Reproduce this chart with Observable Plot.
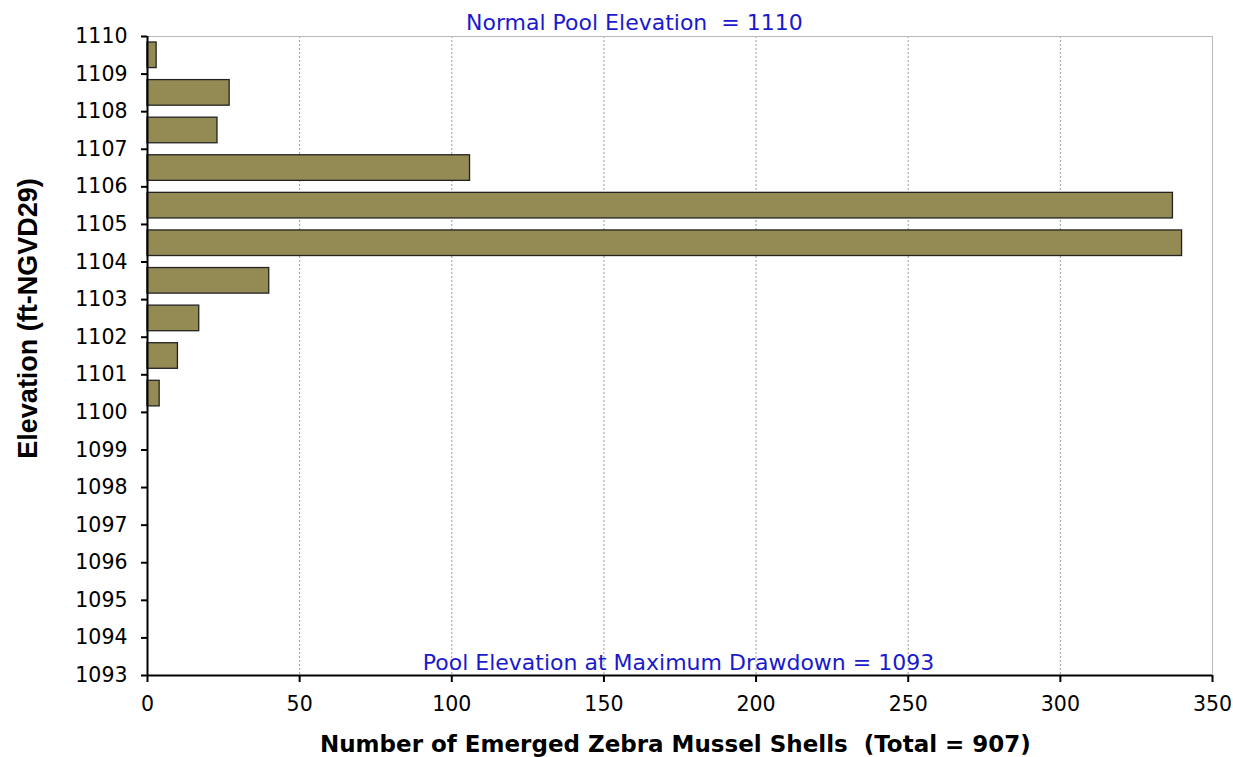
<!DOCTYPE html>
<html><head><meta charset="utf-8">
<script src="https://cdn.jsdelivr.net/npm/d3@7"></script>
<script src="https://cdn.jsdelivr.net/npm/@observablehq/plot@0.6"></script>
<style>
body{margin:0;background:#fff;}
#chart svg{background:#fff;}
</style></head><body><div id="chart"></div>
<script>
// Data
const elevationLow = [1109, 1108, 1107, 1106, 1105, 1104, 1103, 1102, 1101, 1100];
const shellCounts  = [3, 27, 23, 106, 337, 340, 40, 17, 10, 4];
const elevationTicks = d3.range(1093, 1111);
const countTicks = [0, 50, 100, 150, 200, 250, 300, 350];
const xTitle = "Number of Emerged Zebra Mussel Shells\u00a0 (Total = 907)";
const yTitle = "Elevation (ft-NGVD29)";
const topNote = "Normal Pool Elevation\u00a0 = 1110";
const bottomNote = "Pool Elevation at Maximum Drawdown = 1093";

const data = elevationLow.map((e, i) => ({lo: e, hi: e + 1, count: shellCounts[i]}));
const wide = '"DejaVu Sans", Verdana, sans-serif';
const arial = '"Liberation Sans", Arial, sans-serif';

const chart = Plot.plot({
  width: 1233,
  height: 757,
  marginLeft: 147,
  marginRight: 21,
  marginTop: 36,
  marginBottom: 82,
  style: {fontFamily: wide, fontSize: "20px", color: "#000"},
  x: {domain: [0, 350]},
  y: {domain: [1093, 1110]},
  marks: [
    Plot.gridX(countTicks.filter(d => d > 0 && d < 350), {stroke: "#999", strokeOpacity: 1, strokeDasharray: "2,2", strokeWidth: 1}),
    Plot.ruleY([1110], {stroke: "#bbb", strokeWidth: 1}),
    Plot.ruleX([350], {stroke: "#bbb", strokeWidth: 1}),
    Plot.rectX(data, {x1: 0, x2: "count", y1: "lo", y2: "hi", insetTop: 6, insetBottom: 6,
      fill: "#948A54", stroke: "#222", strokeWidth: 1.3}),
    Plot.ruleX([0], {stroke: "#000", strokeWidth: 2}),
    Plot.ruleY([1093], {stroke: "#000", strokeWidth: 2}),
    Plot.axisY({ticks: elevationTicks, tickFormat: d => String(d), tickSize: 6, tickPadding: 14,
      fontSize: 20.5, fontFamily: wide, label: null, stroke: "#000", strokeWidth: 2, color: "#000"}),
    Plot.axisX({ticks: countTicks, tickFormat: d => String(d), tickSize: 7, tickPadding: 14,
      fontSize: 20.5, fontFamily: wide, label: null, stroke: "#000", strokeWidth: 2, color: "#000"}),
    Plot.text([topNote], {x: 160, y: 1110, dy: -14, fill: "#1a1acc", fontSize: 22, fontFamily: wide, textAnchor: "middle"}),
    Plot.text([bottomNote], {x: 174.5, y: 1093, dy: -13, fill: "#1a1acc", fontSize: 22, fontFamily: wide, textAnchor: "middle"}),
    Plot.text([xTitle], {x: 173.5, frameAnchor: "bottom", dy: 76, fill: "#000", fontSize: 23, fontFamily: wide, fontWeight: "bold", textAnchor: "middle"}),
    Plot.text([yTitle], {y: 1102.5, frameAnchor: "left", dx: -119, rotate: -90, fill: "#000", fontSize: 27, fontFamily: arial, fontWeight: "bold", textAnchor: "middle"})
  ]
});
document.getElementById("chart").append(chart);
</script>
</body></html>
